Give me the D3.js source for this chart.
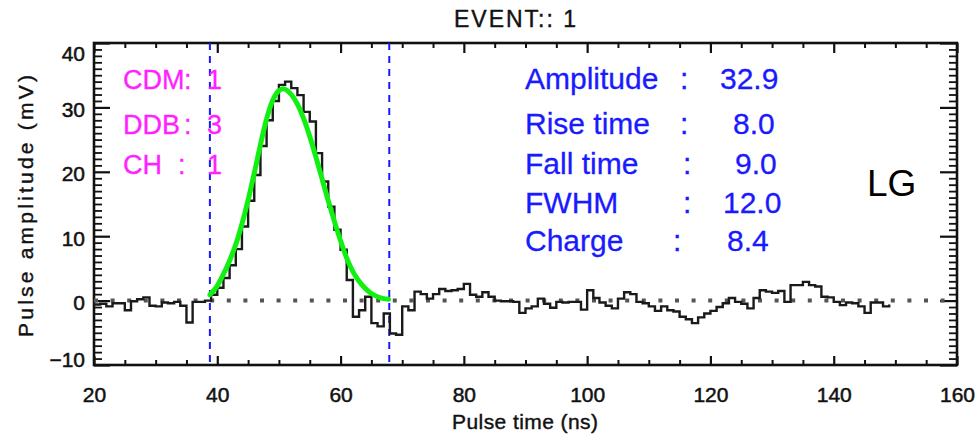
<!DOCTYPE html>
<html>
<head>
<meta charset="utf-8">
<script src="https://cdn.jsdelivr.net/npm/d3@7"></script>
<style>
  html, body { margin: 0; padding: 0; background: #fff; }
  svg { display: block; }
  text { font-family: "Liberation Sans", Arial, Helvetica, sans-serif; }
</style>
</head>
<body>
<svg id="chart" width="980" height="441"></svg>
<script>
// ---------------- data ----------------
const chartTitle = "EVENT:: 1";
const xLabel = "Pulse time (ns)";
const yLabel = "Pulse amplitude (mV)";
const xTickValues = [20, 40, 60, 80, 100, 120, 140, 160];
const yTickValues = [-10, 0, 10, 20, 30, 40];

// sampled pulse (1 ns bins starting at traceStart)
const traceStart = 20;
const traceValues = [
  -0.6, -0.5, -0.9, -0.4, -0.4, -1.5, -0.1, 0.2, 0.5, -0.8,      // 20-29
  -0.9, -0.3, -0.4, -0.2, -0.8, -3.4, -0.2, -0.2, 0.0, 0.9,      // 30-39
  2.0, 3.5, 5.5, 8.0, 11.5, 15.5, 19.5, 24.0, 28.0, 31.0,        // 40-49
  33.5, 34.0, 33.0, 31.9, 29.3, 27.8, 22.9, 18.5, 14.6, 11.0,    // 50-59
  7.9, 3.2, -2.5, -1.5, 0.6, -3.5, -4.0, -2.0, -5.1, -5.3,       // 60-69
  -0.9, -1.5, 1.4, 1.0, 0.3, 1.0, 1.8, 1.5, 1.6, 1.8,            // 70-79
  2.6, 0.9, 0.6, 1.3, 0.6, 0.0, -0.1, -0.1, -0.2, -1.9,          // 80-89
  -1.2, -0.9, 0.3, -0.5, -1.1, -0.2, -0.3, -0.2, -0.2, -1.4,     // 90-99
  1.6, 0.4, -0.3, -0.8, -1.2, 0.3, 1.3, 1.0, -0.2, -0.4,         // 100-109
  -0.9, -1.6, -0.9, -1.5, -1.7, -2.5, -2.9, -3.5, -2.6, -2.0,    // 110-119
  -1.6, -1.0, -0.4, 0.4, -0.2, -0.5, -1.2, 0.4, 1.6, 1.4,        // 120-129
  1.2, 1.5, -0.2, 2.4, 2.4, 2.9, 2.4, 2.2, 0.6, 0.5,             // 130-139
  -0.2, -0.7, -0.3, -0.4, -0.9, -1.9, -0.3, -0.3, -0.9, -0.6     // 140-149
];

// fitted pulse shape
const fitTimes  = [38.8, 40, 41, 42, 43, 44, 45, 46, 47, 48, 49, 50, 50.7, 52, 53,
                   54, 55, 56, 57, 58, 59, 60, 61, 62, 63, 64, 65, 66, 67, 67.8];
const fitValues = [0.9, 2.3, 4.1, 6.2, 8.7, 11.9, 15.6, 19.8, 24.2, 28.2, 31.1, 32.6, 32.9, 32.0, 30.5,
                   28.3, 25.5, 22.3, 18.9, 15.5, 12.3, 9.3, 6.6, 4.5, 3.0, 1.9, 1.1, 0.6, 0.3, 0.2];

// integration window markers
const windowTimes = [38.8, 67.9];

// annotations
const idLabels = ["CDM:", "DDB:", "CH :"];
const idValues = ["1", "3", "1"];
const statLabels = ["Amplitude", "Rise time", "Fall time", "FWHM", "Charge"];
const statValues = ["32.9", "8.0", "9.0", "12.0", "8.4"];
const gainLabel = "LG";

// ---------------- chart ----------------
const svg = d3.select("#chart");
const M = { left: 94, right: 957, top: 43, bottom: 365 };

const x = d3.scaleLinear().domain([20, 160]).range([M.left, M.right]);
const y = d3.scaleLinear().domain([-10, 40]).range([M.bottom, M.top]);

const xMinor = d3.range(20, 161, 5).filter(v => !xTickValues.includes(v));
const yMinor = d3.range(-10, 41, 1).filter(v => !yTickValues.includes(v));

const axisColor = "#111";
const tickFont = 21;

function boldish(sel, color, w) {
  sel.attr("stroke", color).attr("stroke-width", w).attr("paint-order", "stroke");
}

// ---- minor ticks ----
function styleAxis(g, width) {
  g.select(".domain").remove();
  g.selectAll(".tick line").attr("stroke", axisColor).attr("stroke-width", width);
}
svg.append("g").attr("transform", `translate(0,${M.bottom})`)
  .call(d3.axisBottom(x).tickValues(xMinor).tickSize(-5).tickFormat(""))
  .call(g => styleAxis(g, 2));
svg.append("g").attr("transform", `translate(0,${M.top})`)
  .call(d3.axisTop(x).tickValues(xMinor).tickSize(-5).tickFormat(""))
  .call(g => styleAxis(g, 2));
svg.append("g").attr("transform", `translate(${M.left},0)`)
  .call(d3.axisLeft(y).tickValues(yMinor).tickSize(-8).tickFormat(""))
  .call(g => styleAxis(g, 1.8));
svg.append("g").attr("transform", `translate(${M.right},0)`)
  .call(d3.axisRight(y).tickValues(yMinor).tickSize(-8).tickFormat(""))
  .call(g => styleAxis(g, 1.8));

// ---- major ticks ----
const xAxisB = svg.append("g").attr("transform", `translate(0,${M.bottom})`)
  .call(d3.axisBottom(x).tickValues(xTickValues).tickSize(-9).tickPadding(22).tickFormat(d3.format("d")))
  .call(g => styleAxis(g, 2.2));
xAxisB.selectAll("text").attr("font-size", tickFont).attr("fill", "#111")
  .attr("font-family", "'Liberation Sans', Arial, sans-serif")
  .call(s => boldish(s, "#111", 0.5));

svg.append("g").attr("transform", `translate(0,${M.top})`)
  .call(d3.axisTop(x).tickValues(xTickValues).tickSize(-10).tickFormat(""))
  .call(g => styleAxis(g, 2.2));

const yAxisL = svg.append("g").attr("transform", `translate(${M.left},0)`)
  .call(d3.axisLeft(y).tickValues(yTickValues).tickSize(-16).tickPadding(9)
        .tickFormat(d => d < 0 ? "\u2212" + Math.abs(d) : String(d)))
  .call(g => styleAxis(g, 2.2));
yAxisL.selectAll("text").attr("font-size", tickFont).attr("fill", "#111")
  .attr("font-family", "'Liberation Sans', Arial, sans-serif")
  .attr("dy", d => d === 40 ? "0.85em" : d === -10 ? "0.05em" : "0.42em")
  .call(s => boldish(s, "#111", 0.5));

svg.append("g").attr("transform", `translate(${M.right},0)`)
  .call(d3.axisRight(y).tickValues(yTickValues).tickSize(-17).tickFormat(""))
  .call(g => styleAxis(g, 2.2));

// ---- frame ----
svg.append("rect")
  .attr("x", M.left).attr("y", M.top)
  .attr("width", M.right - M.left).attr("height", M.bottom - M.top)
  .attr("fill", "none").attr("stroke", axisColor).attr("stroke-width", 2.6);

// ---- zero dotted line ----
svg.append("line")
  .attr("x1", x(20)).attr("x2", x(160))
  .attr("y1", y(0)).attr("y2", y(0))
  .attr("stroke", "#555").attr("stroke-width", 4)
  .attr("stroke-dasharray", "4,12.6");

// ---- window markers ----
svg.selectAll("line.win").data(windowTimes).enter().append("line")
  .attr("class", "win")
  .attr("x1", d => x(d)).attr("x2", d => x(d))
  .attr("y1", M.top).attr("y2", M.bottom)
  .attr("stroke", "#1a1aff").attr("stroke-width", 2)
  .attr("stroke-dasharray", "7,6");

// ---- histogram trace ----
const tracePts = traceValues.map((v, i) => [traceStart + i, v]);
svg.append("path")
  .datum(tracePts)
  .attr("fill", "none")
  .attr("stroke", "#1a1a1a")
  .attr("stroke-width", 2.4)
  .attr("stroke-linejoin", "miter")
  .attr("d", d3.line().x(d => x(d[0])).y(d => y(d[1])).curve(d3.curveStepAfter));

// ---- fit curve ----
const fitPts = fitTimes.map((t, i) => [t, fitValues[i]]);
svg.append("path")
  .datum(fitPts)
  .attr("fill", "none")
  .attr("stroke", "#12f012")
  .attr("stroke-width", 5)
  .attr("stroke-linecap", "round")
  .attr("d", d3.line().x(d => x(d[0])).y(d => y(d[1])).curve(d3.curveMonotoneX));

// ---- title and axis labels ----
svg.append("text").attr("x", 515).attr("y", 27)
  .attr("text-anchor", "middle").attr("font-size", 23).attr("fill", "#111")
  .attr("textLength", 122).attr("lengthAdjust", "spacing")
  .call(s => boldish(s, "#111", 0.4))
  .text(chartTitle);

svg.append("text").attr("x", 525).attr("y", 429)
  .attr("text-anchor", "middle").attr("font-size", 21).attr("fill", "#111")
  .attr("textLength", 146).attr("lengthAdjust", "spacing")
  .call(s => boldish(s, "#111", 0.4))
  .text(xLabel);

svg.append("text")
  .attr("transform", "translate(33,206) rotate(-90)")
  .attr("text-anchor", "middle").attr("font-size", 21).attr("fill", "#111")
  .attr("textLength", 262).attr("lengthAdjust", "spacing")
  .call(s => boldish(s, "#111", 0.4))
  .text(yLabel);

// ---- magenta identification block ----
const rowBase = [89, 134, 174, 213, 251];
const idColonX = [184, 184, 178];
const idG = svg.append("g").attr("fill", "#ff22ff").attr("font-size", 27)
  .attr("stroke", "#ff22ff").attr("stroke-width", 0.3);
idLabels.forEach((lab, i) => {
  const name = lab.replace(":", "").trim();
  idG.append("text").attr("x", 123).attr("y", rowBase[i]).text(name);
  idG.append("text").attr("x", idColonX[i]).attr("y", rowBase[i]).text(":");
  idG.append("text").attr("x", 207).attr("y", rowBase[i]).text(idValues[i]);
});

// ---- blue statistics block ----
const statColonX = [680, 680, 683, 683, 673];
const statValueX = [720, 733, 735, 723, 727];
const stG = svg.append("g").attr("fill", "#1a1aff").attr("font-size", 30)
  .attr("stroke", "#1a1aff").attr("stroke-width", 0.3);
statLabels.forEach((lab, i) => {
  stG.append("text").attr("x", 525).attr("y", rowBase[i]).text(lab);
  stG.append("text").attr("x", statColonX[i]).attr("y", rowBase[i]).text(":");
  stG.append("text").attr("x", statValueX[i]).attr("y", rowBase[i]).text(statValues[i]);
});

// ---- gain tag ----
svg.append("text").attr("x", 867).attr("y", 196)
  .attr("font-family", "Lato, 'Open Sans', sans-serif")
  .attr("font-size", 37).attr("fill", "#000")
  .text(gainLabel);
</script>
</body>
</html>
